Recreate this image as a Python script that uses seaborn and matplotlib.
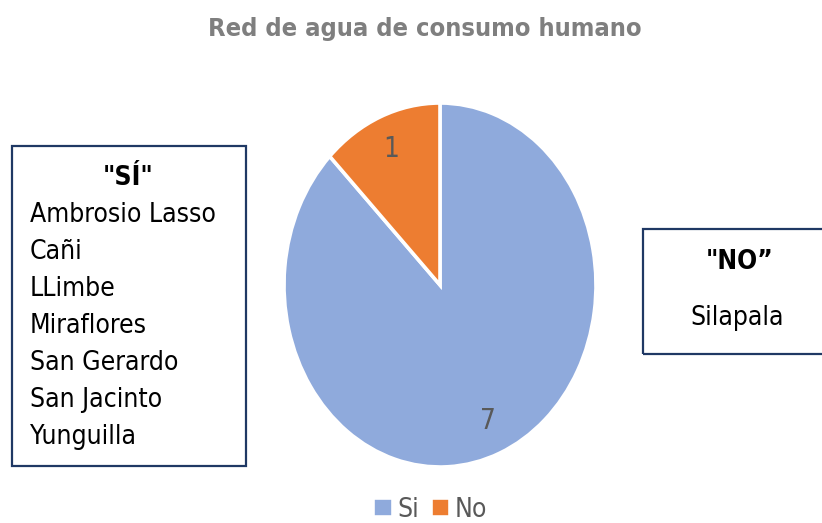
import matplotlib
matplotlib.use("Agg")
import matplotlib.pyplot as plt
import seaborn as sns
from matplotlib.patches import Rectangle

# datos
categorias = ["Si", "No"]
valores = [7, 1]
comunidades_si = ["Ambrosio Lasso", "Cañi", "LLimbe", "Miraflores",
                  "San Gerardo", "San Jacinto", "Yunguilla"]
comunidades_no = ["Silapala"]
titulo = "Red de agua de consumo humano"

sns.set_theme(style="white")
plt.rcParams['font.family'] = ['DejaVu Sans']
plt.rcParams['font.stretch'] = 'condensed'

W, H = 822, 523
fig = plt.figure(figsize=(W / 100, H / 100), dpi=100)


def px(x, y):
    # pixeles (desde arriba a la izquierda) -> fraccion de figura
    return x / W, 1 - y / H


colores = ["#8FAADC", "#ED7D31"]
gris = "#595959"

# pie eliptico como en Excel
ax = fig.add_axes([284 / W, 56 / H, 312 / W, 364 / H])
total = sum(valores)
wedges, textos, autotextos = ax.pie(
    valores, colors=colores, startangle=90, counterclock=False,
    autopct=lambda p: f"{round(p * total / 100)}", pctdistance=0.81,
    wedgeprops=dict(edgecolor="white", linewidth=2.6),
    textprops=dict(color=gris, fontsize=20), frame=False)
ax.set_aspect("auto")
ax.set_xlim(-1, 1)
ax.set_ylim(-1, 1)
for w in wedges:
    w.set_clip_on(False)

# titulo
fig.text(*px(425, 29), titulo, ha="center", va="center", fontsize=18.3,
         fontweight="bold", color="#7F7F7F")

# leyenda
fig.legend(wedges, categorias, loc="center", bbox_to_anchor=px(430, 510),
           ncol=2, frameon=False, fontsize=19, handlelength=0.75,
           handleheight=0.75, handletextpad=0.15, columnspacing=0.45,
           labelcolor=gris)

# caja "SÍ"
borde = "#1F3864"
fig.patches.append(Rectangle(px(12, 466), 234 / W, 320 / H, transform=fig.transFigure,
                             fill=False, edgecolor=borde, linewidth=1.6))
fig.text(*px(128, 178), '"SÍ"', ha="center", va="center", fontsize=19,
         fontweight="bold", color="black")
for i, nombre in enumerate(comunidades_si):
    fig.text(*px(30, 215 + i * 37), nombre, ha="left", va="center",
             fontsize=19, color="black")

# caja "NO"
fig.patches.append(Rectangle(px(643, 354), 200 / W, 125 / H, transform=fig.transFigure,
                             fill=False, edgecolor=borde, linewidth=1.6, clip_on=False))
fig.text(*px(740, 262), '"NO”', ha="center", va="center", fontsize=19,
         fontweight="bold", color="black")
fig.text(*px(737, 318), comunidades_no[0], ha="center", va="center",
         fontsize=19, color="black")

fig.savefig("out.png", dpi=100)
